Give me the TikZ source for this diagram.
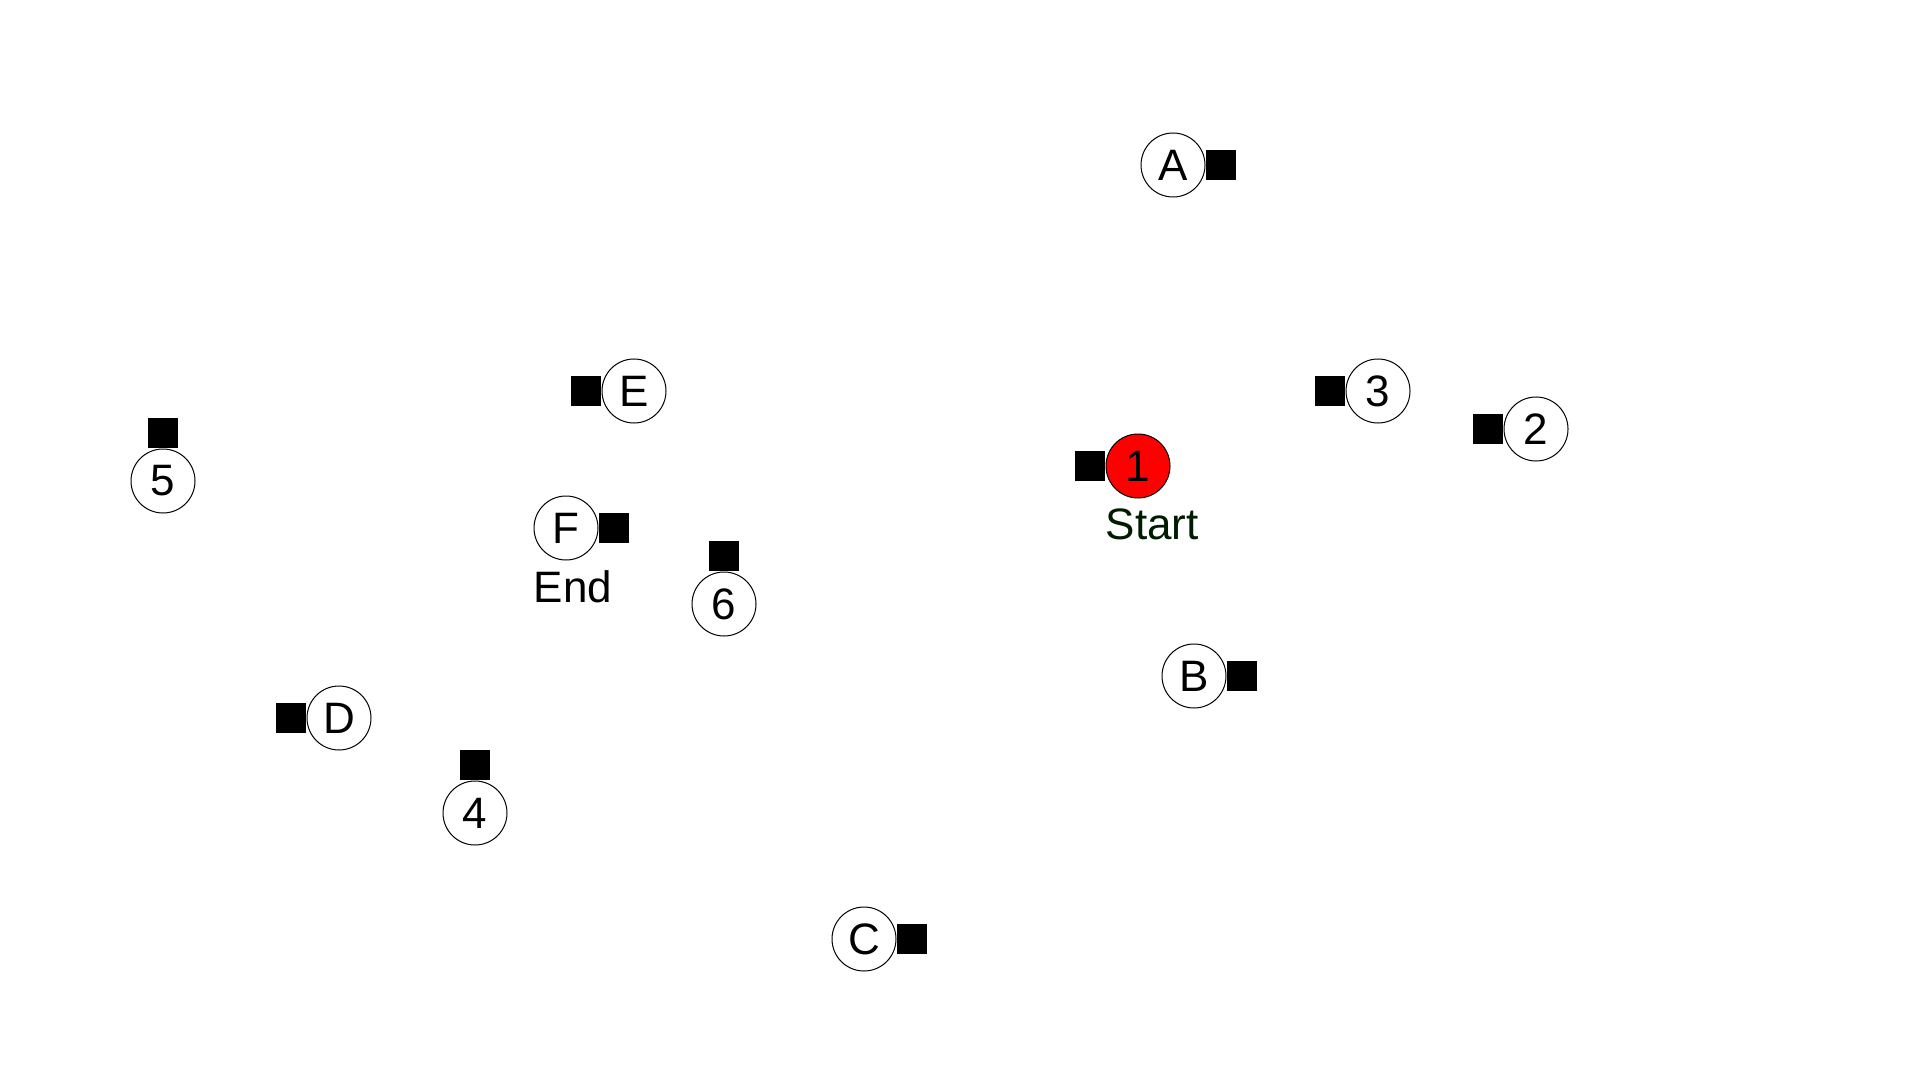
\documentclass[tikz,border=0pt]{standalone}
\usepackage{fontspec}
\setmainfont{Liberation Sans}
\usepackage{xcolor}
\definecolor{startgreen}{RGB}{0,28,0}
\usetikzlibrary{positioning}
\tikzset{
  stop/.style={draw, circle, line width=0.5pt, fill=white, inner sep=0pt,
               minimum size=32pt, font=\fontsize{22}{26}\selectfont},
  stopred/.style={stop, fill=red},
  sq/.style={fill=black, inner sep=0pt, minimum size=15pt},
  lbl/.style={inner sep=0pt, anchor=north west, font=\fontsize{22}{26}\selectfont},
}

\begin{document}
\begin{tikzpicture}[x=0.5pt, y=-0.5pt]
  \useasboundingbox (0,0) rectangle (1920,1080);
  \node[stop] (a) at (1173,165) {A};
  \node[stop] (e) at (634,391) {E};
  \node[stop] (s3) at (1378,391) {3};
  \node[stop] (s2) at (1536,429) {2};
  \node[stopred] (s1) at (1138,466) {1};
  \node[stop] (s5) at (163,481) {5};
  \node[stop] (f) at (566,528) {F};
  \node[stop] (s6) at (724,604) {6};
  \node[stop] (b) at (1194,676) {B};
  \node[stop] (d) at (339,718) {D};
  \node[stop] (s4) at (475,813) {4};
  \node[stop] (c) at (864,939) {C};

  \node[sq, right=0pt of a] (qa) {};
  \node[sq, left=0pt of e] (qe) {};
  \node[sq, left=0pt of s3] (q3) {};
  \node[sq, left=0pt of s2] (q2) {};
  \node[sq, left=0pt of s1] (q1) {};
  \node[sq, above=0pt of s5] (q5) {};
  \node[sq, right=0pt of f] (qf) {};
  \node[sq, above=0pt of s6] (q6) {};
  \node[sq, right=0pt of b] (qb) {};
  \node[sq, left=0pt of d] (qd) {};
  \node[sq, above=0pt of s4] (q4) {};
  \node[sq, right=0pt of c] (qc) {};

  \node[lbl, text=startgreen, yshift=-5pt] (start) at (s1.west |- s1.south) {Start};
  \node[lbl, yshift=-5pt] (end) at (f.west |- f.south) {End};
\end{tikzpicture}
\end{document}
